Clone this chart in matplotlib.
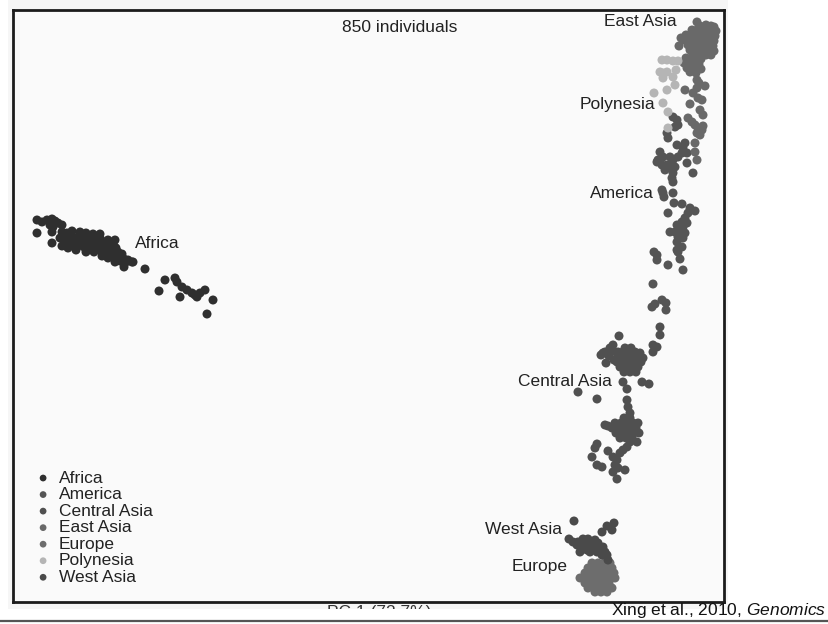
import numpy as np
import matplotlib
matplotlib.use("Agg")
import matplotlib.pyplot as plt
from matplotlib.patches import Rectangle
from matplotlib.lines import Line2D

plt.rcParams["font.family"] = ["Liberation Sans", "DejaVu Sans"]
plt.rcParams["mathtext.fontset"] = "custom"
plt.rcParams["mathtext.rm"] = "Liberation Sans"
plt.rcParams["mathtext.it"] = "Liberation Sans:italic"

# PC scores (arbitrary units, PC2 axis runs downward)
africa = [(37, 220), (42, 222), (47, 220), (52, 219), (55, 221), (58, 223), (62, 225), (50, 225),
          (53, 227), (52, 232), (37, 233), (52, 243), (67, 233), (80, 232), (93, 234),
          (62, 232), (72, 231), (86, 233), (100, 234), (62, 246), (68, 248), (76, 250), (86, 252),
          (94, 252), (102, 256), (108, 258),
          (60, 238), (64, 236), (68, 237), (72, 236), (76, 238), (80, 237), (84, 238), (88, 239),
          (92, 238), (96, 240), (66, 241), (70, 241), (74, 242), (78, 241), (82, 243), (86, 242),
          (90, 243), (94, 244), (98, 243), (102, 245), (106, 246), (110, 244), (114, 246),
          (73, 245), (78, 246), (84, 247), (90, 248), (96, 248), (100, 250), (106, 250), (112, 251),
          (116, 248), (118, 252), (122, 254), (115, 240), (108, 240), (100, 238), (104, 242),
          (112, 256), (118, 258), (124, 259), (128, 260), (132, 262), (126, 262), (120, 261),
          (110, 250), (105, 254), (115, 262), (124, 267), (133, 262), (145, 269),
          (165, 280), (175, 278), (177, 282), (159, 291), (182, 287), (187, 290), (192, 293),
          (180, 297), (197, 297), (205, 290), (200, 293), (213, 300), (207, 314), (195, 295)]

america = [(673, 117), (677, 120), (678, 125), (675, 127), (667, 133), (668, 138),
           (677, 145), (685, 143), (683, 148), (682, 153), (678, 157), (687, 153), (693, 173), (687, 163),
           (660, 152), (663, 157), (658, 160), (662, 165), (667, 165), (657, 162), (665, 170), (670, 168),
           (673, 173), (672, 178), (675, 167), (673, 160), (670, 157),
           (662, 190), (663, 193), (664, 197), (673, 182), (673, 193), (674, 203), (682, 204), (668, 213),
           (690, 208), (695, 211), (688, 213), (685, 218), (682, 222), (687, 223), (677, 225), (683, 227),
           (670, 232), (675, 232), (680, 230), (685, 233), (678, 237), (683, 238), (677, 242), (682, 247),
           (677, 250), (678, 252), (680, 259), (683, 270),
           (654, 252), (657, 255), (657, 260), (668, 265), (653, 284), (662, 300), (666, 303),
           (655, 304), (652, 307), (666, 310)]

central_asia = [(660, 327), (660, 335), (657, 347), (653, 352), (653, 345), (619, 336), (613, 345),
                (610, 348), (603, 353), (606, 363), (601, 355), (605, 352), (617, 353),
                (625, 348), (631, 348), (618, 352), (623, 352), (629, 352), (635, 352), (640, 353),
                (620, 357), (626, 357), (632, 357), (638, 357), (643, 358), (617, 362), (623, 362),
                (629, 362), (635, 362), (641, 362), (620, 367), (626, 367), (632, 367), (638, 367),
                (624, 372), (630, 372), (636, 372), (612, 350), (609, 356), (614, 360),
                (623, 382), (627, 389), (642, 382), (649, 384), (578, 392), (597, 399), (627, 400),
                (628, 407), (630, 413), (624, 418), (630, 418), (615, 423), (621, 423), (627, 423),
                (633, 423), (638, 423), (612, 428), (618, 428), (624, 428), (630, 428), (636, 428),
                (616, 433), (622, 433), (628, 433), (634, 433), (639, 433), (620, 438), (626, 438),
                (632, 438), (630, 442), (637, 442), (605, 425), (608, 426),
                (597, 444), (595, 448), (608, 451), (592, 457), (597, 465), (602, 467), (613, 457),
                (617, 460), (620, 453), (623, 450), (615, 465), (618, 468), (613, 472), (625, 470),
                (617, 479), (627, 447)]

east_asia = [(697, 22), (700, 26), (706, 25), (711, 26), (714, 27),
             (692, 30), (697, 30), (702, 30), (707, 30), (712, 31), (716, 31),
             (686, 35), (691, 35), (696, 35), (701, 35), (706, 35), (711, 36), (715, 36),
             (681, 38), (684, 40), (689, 40), (694, 40), (699, 40), (704, 40), (709, 41), (714, 41),
             (679, 46), (688, 45), (693, 45), (698, 45), (703, 45), (708, 46), (713, 46),
             (690, 50), (695, 50), (700, 50), (705, 50), (710, 51), (714, 51),
             (696, 55), (701, 55), (706, 55), (711, 55),
             (686, 58), (691, 58), (696, 58), (701, 59), (684, 63), (689, 63), (694, 63), (699, 64),
             (687, 68), (692, 68), (697, 68), (701, 69), (690, 72), (696, 73),
             (697, 80), (699, 83), (705, 86), (685, 90), (697, 88), (693, 93), (698, 98), (702, 100),
             (690, 104), (700, 110), (703, 115), (688, 118), (692, 122), (695, 125), (698, 128),
             (702, 130), (703, 126), (697, 133), (700, 135), (695, 143), (695, 152), (697, 160)]

europe = [(592, 563), (598, 563), (604, 563), (610, 563), (588, 568), (594, 568), (600, 568),
          (606, 568), (612, 568), (585, 573), (591, 573), (597, 573), (603, 573), (609, 573),
          (614, 573), (586, 578), (592, 578), (598, 578), (604, 578), (610, 578), (615, 578),
          (585, 583), (591, 583), (597, 583), (603, 583), (609, 583), (588, 588), (594, 588),
          (600, 588), (606, 588), (612, 588), (595, 592), (601, 592), (607, 592), (580, 578)]

polynesia = [(662, 60), (667, 60), (673, 61), (678, 61), (660, 72), (663, 73), (667, 72),
             (673, 77), (676, 70), (663, 78), (675, 85), (667, 90), (654, 93), (663, 103),
             (668, 112), (668, 128)]

west_asia = [(574, 521), (607, 526), (614, 523), (612, 530), (602, 532), (569, 539), (573, 542),
             (578, 542), (582, 543), (577, 545), (583, 539), (588, 539), (592, 542), (595, 540),
             (598, 543), (593, 547), (587, 547), (582, 548), (590, 552), (597, 552), (600, 548),
             (603, 547), (605, 552), (602, 555), (607, 555), (608, 560), (580, 552), (587, 550)]

groups = ["Africa", "America", "Central Asia", "East Asia", "Europe", "Polynesia", "West Asia"]
scores = [africa, america, central_asia, east_asia, europe, polynesia, west_asia]
shades = ["#2f2f2f", "#555555", "#505050", "#696969", "#6d6d6d", "#b5b5b5", "#4a4a4a"]

# (text, pc1, pc2, ha)
region_labels = [("East Asia", 677, 22, "right"), ("Polynesia", 655, 105, "right"),
                 ("America", 654, 193, "right"), ("Africa", 135, 243, "left"),
                 ("Central Asia", 518, 382, "left"), ("West Asia", 485, 529, "left"),
                 ("Europe", 512, 566, "left")]

W, H = 829, 624
fig = plt.figure(figsize=(W / 100, H / 100), dpi=100)
fig.patch.set_facecolor("white")
fig.add_artist(Rectangle((8 / W, 1 - 609 / H), 720 / W, 609 / H, transform=fig.transFigure,
                         facecolor="#f6f6f6", edgecolor="none", zorder=0))

ax = fig.add_axes([13 / W, 1 - 602 / H, 711 / W, 592 / H])
ax.set_facecolor("#fafafa")

for name, pts, c in zip(groups, scores, shades):
    arr = np.array(pts, dtype=float)
    ax.scatter(arr[:, 0], arr[:, 1], s=42, color=c, edgecolors="none", label=name, zorder=3)

ax.set_xlim(13, 724)
ax.set_ylim(602, 10)
ax.set_xticks([])
ax.set_yticks([])
for sp in ax.spines.values():
    sp.set_linewidth(2.0)
    sp.set_color("#1c1c1c")

for txt, x, y, ha in region_labels:
    ax.text(x, y, txt, ha=ha, va="center", fontsize=12.5, color="#222222", zorder=4)

ax.text(400, 28, "850 individuals", ha="center", va="center", fontsize=12.5, color="#222222")

leg = ax.legend(loc="lower left", bbox_to_anchor=(0.035, 0.029), frameon=False, fontsize=12.5,
                handlelength=0.6, handletextpad=0.6, labelspacing=0.08, borderpad=0,
                borderaxespad=0, markerscale=0.75)
for t in leg.get_texts():
    t.set_color("#222222")

# axis title below the frame, cut off at the lower edge of the panel
xl = fig.text(379 / W, 1 - 605 / H, "PC 1 (72.7%)", ha="center", va="top", fontsize=12.5,
              color="#333333")
xl.set_clip_path(Rectangle((0, 1 - 609 / H), 1, 609 / H, transform=fig.transFigure))

fig.add_artist(Line2D([0, 1], [1 - 621 / H, 1 - 621 / H], transform=fig.transFigure,
                      color="#555555", linewidth=1.6))
fig.text(826 / W, 1 - 615 / H, r"Xing et al., 2010, $\mathit{Genomics}$", ha="right",
         va="baseline", fontsize=12.5, color="#111111")

fig.savefig("out.png", dpi=100)
